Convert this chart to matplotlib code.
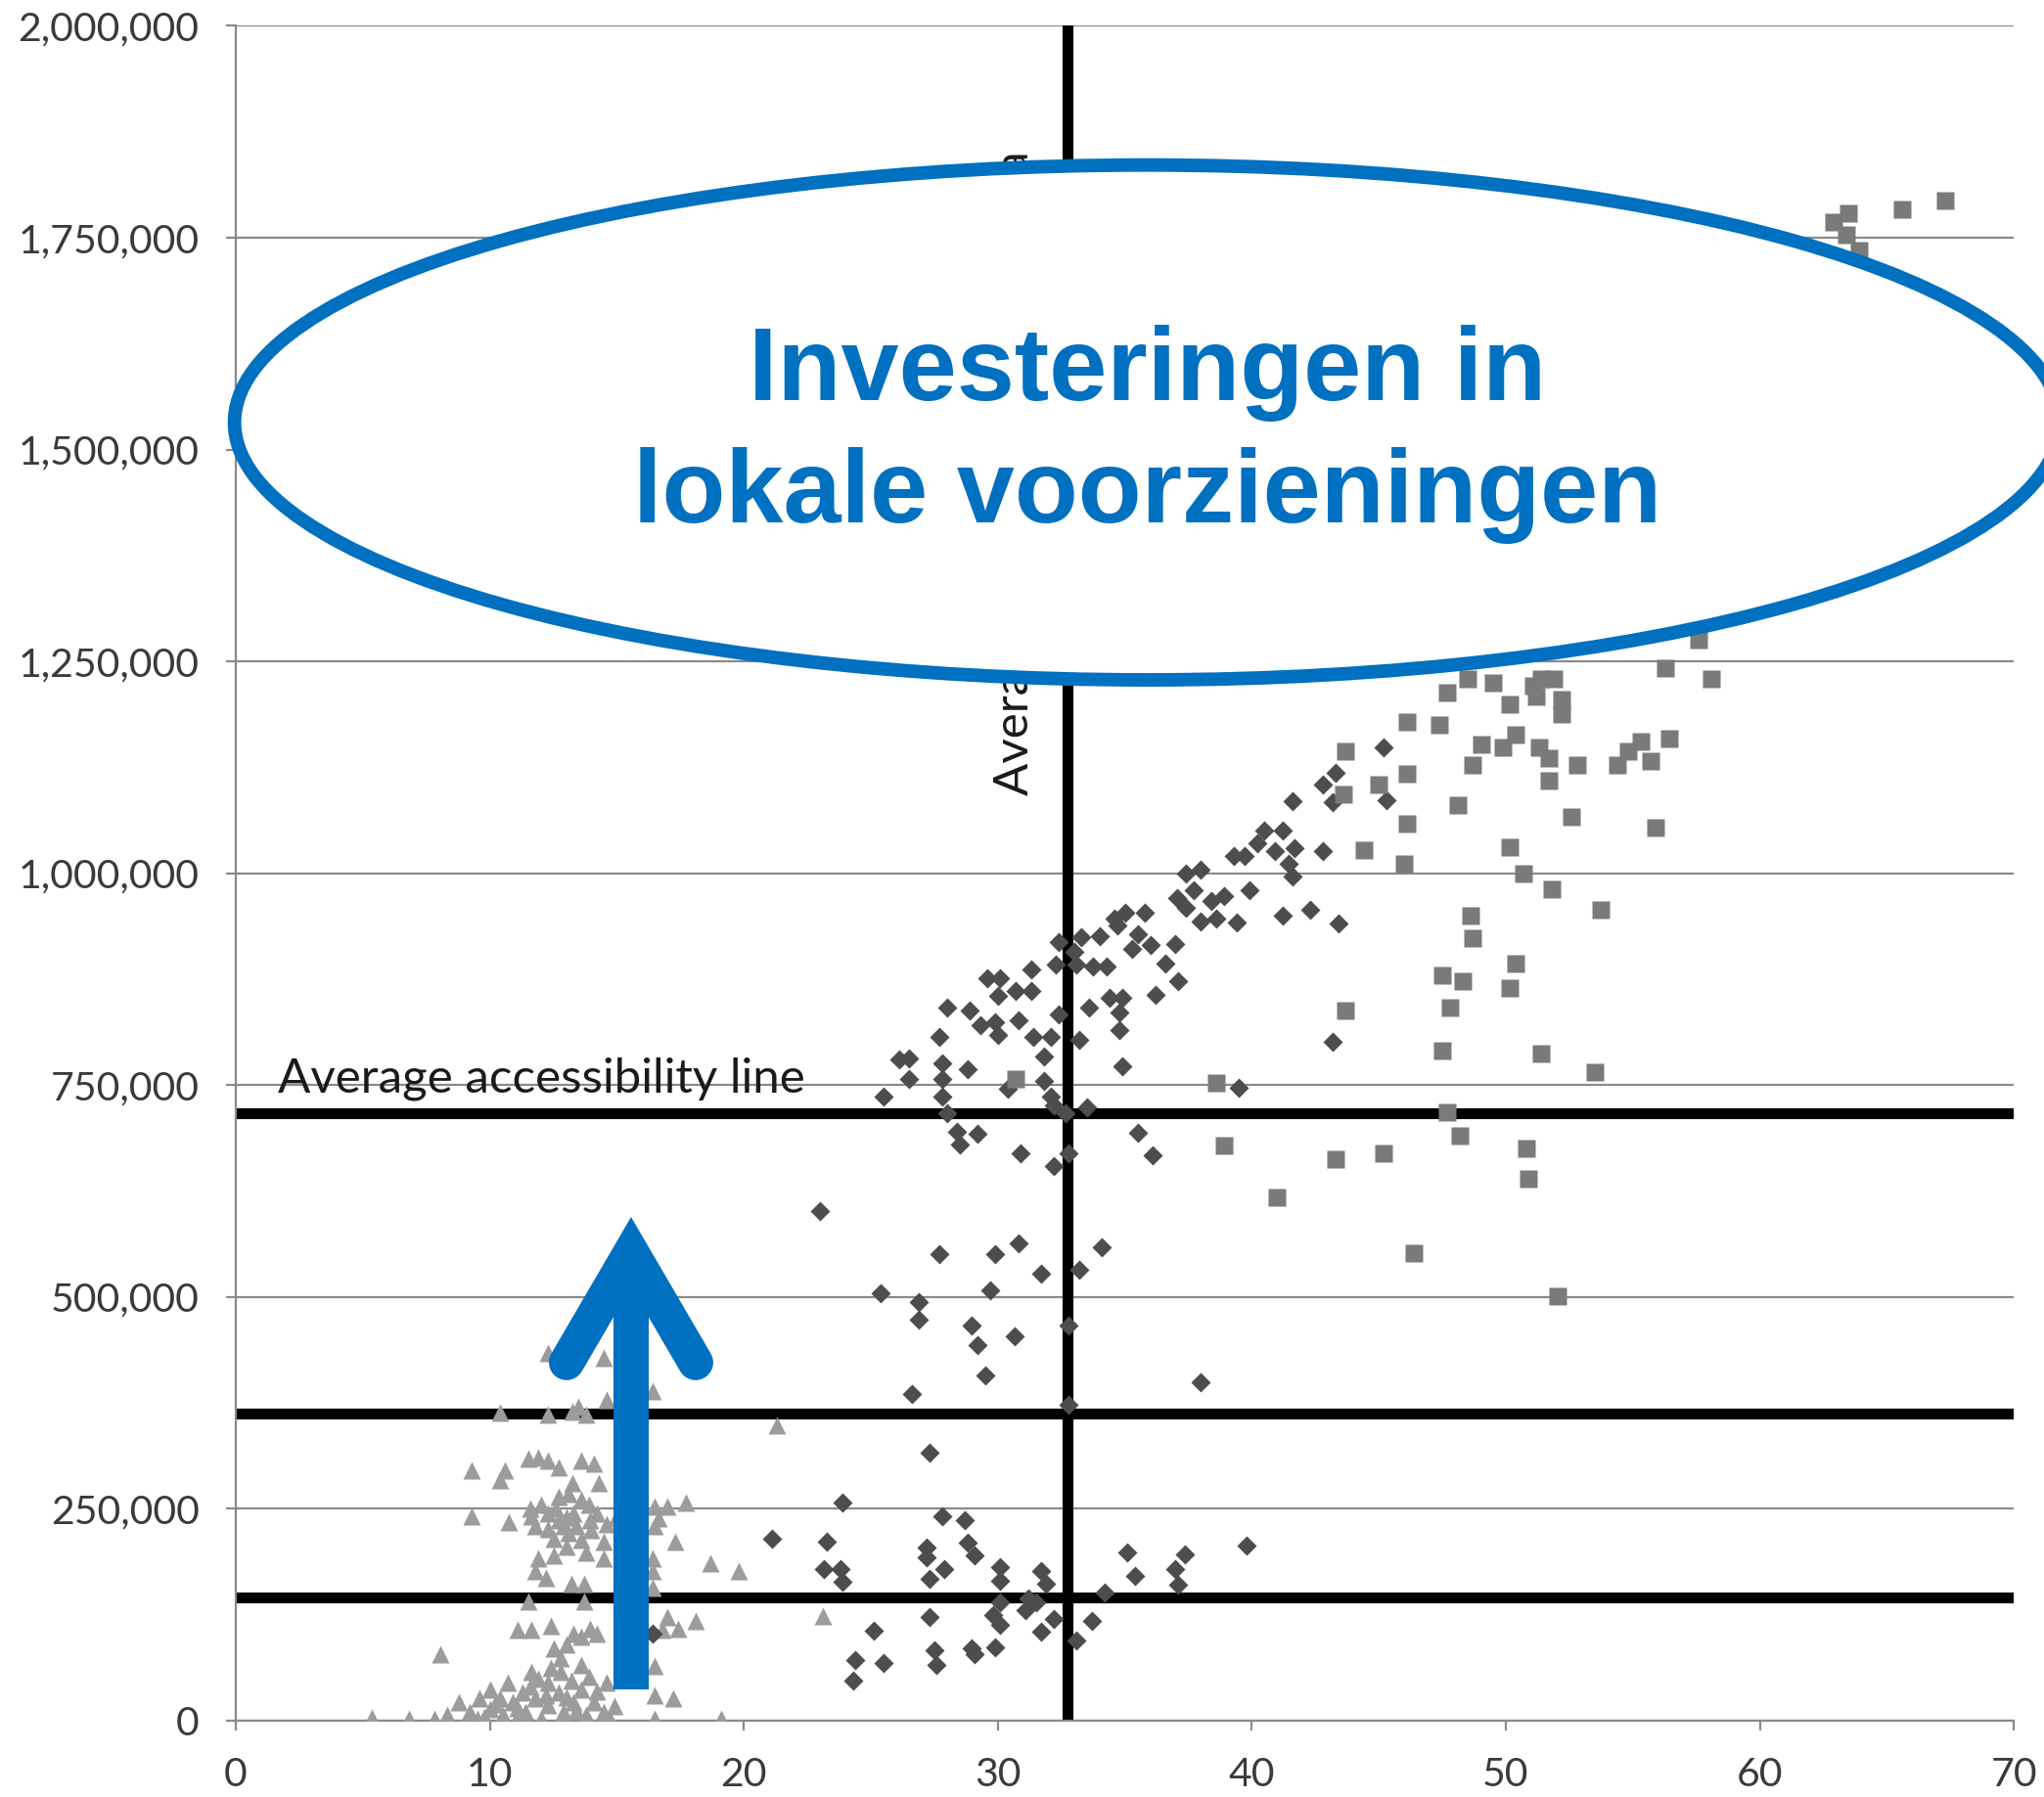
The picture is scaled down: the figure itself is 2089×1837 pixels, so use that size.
import numpy as np
import matplotlib.pyplot as plt
from matplotlib.patches import Ellipse
from matplotlib.ticker import FuncFormatter

# --- series (x = accessibility, y in thousands) ---

# light grey triangles
tri_x = [12.3, 12.8, 14.5, 16.4, 14.6, 10.4, 12.3, 13.25, 13.5, 13.8, 21.3,
         9.3, 10.6, 10.4, 11.5, 11.9, 12.3, 12.7, 13.6, 14.1, 13.25, 14.3, 12.7, 13.1, 13.6,
         9.3, 10.75, 11.65, 12.3, 12.7, 13.3, 13.95, 11.8, 12.3, 13.1, 13.6, 14.6, 16.5, 17.0,
         17.7, 16.65, 16.5,
         14.5, 13.8, 14.5, 17.3, 11.9, 12.5, 11.8, 12.2, 13.2, 13.7, 16.4, 16.4, 18.7, 19.8,
         11.5, 13.7, 16.4, 11.1, 11.65, 12.4, 13.3, 13.95, 14.2, 13.6, 17.0, 17.4, 18.1, 16.8, 23.1,
         8.05, 11.65, 12.8, 12.8, 13.6, 16.5, 12.3, 13.2, 14.6, 16.5, 17.2,
         5.35, 6.8, 7.8, 8.3, 8.8, 9.2, 9.6, 10.0, 10.0, 10.4, 10.5, 10.9, 11.3, 11.4, 11.8,
         12.0, 12.3, 12.7, 12.9, 13.3, 13.6, 13.8, 14.1, 14.5, 14.7, 14.9, 16.5, 19.1, 9.5, 11.0, 12.8,
         12.0, 12.6, 13.0, 13.9, 14.2, 12.9, 11.6, 13.4, 14.0, 12.5, 13.0, 15.0,
         10.2, 11.1, 11.6, 12.2, 13.0, 13.4, 14.2, 9.8, 10.7, 11.9, 12.4, 13.9, 12.5, 13.0]
tri_y = [434, 431, 428, 389, 378, 363, 361, 365, 370, 361, 349,
         295, 295, 284, 309, 311, 307, 299, 307, 303, 280, 280, 264, 268, 261,
         241, 234, 241, 245, 237, 245, 237, 230, 226, 222, 214, 232, 253, 253,
         257, 239, 230,
         211, 199, 191, 211, 191, 195, 176, 168, 162, 162, 191, 176, 186, 176,
         141, 141, 157, 107, 107, 112, 103, 108, 103, 99, 122, 108, 118, 107, 123,
         78, 58, 74, 58, 66, 64, 45, 47, 45, 30, 26,
         3, 2, 2, 7, 22, 10, 26, 37, 14, 26, 7, 22, 33, 10, 26,
         2, 18, 33, 10, 22, 37, 7, 22, 10, 2, 17, 2, 2, 2, 0, 0,
         255, 250, 240, 255, 245, 230, 250, 230, 225, 215, 205, 240,
         20, 15, 40, 30, 28, 12, 35, 5, 45, 50, 62, 52, 85, 90]

# dark grey diamonds
dia_x = [41.6, 42.8, 43.2, 40.5, 41.2, 40.2, 40.9, 41.7, 41.45, 41.6, 42.8, 39.3, 39.7,
         37.4, 38.0, 37.7, 37.05, 37.4, 38.4, 38.9, 39.9, 38.0, 38.6, 39.4, 41.2, 42.3, 43.4,
         34.6, 35.0, 34.7, 35.8, 35.5, 35.3, 36.0, 37.0, 36.6, 37.1, 36.2, 34.0, 33.3, 33.0,
         32.4, 32.3, 33.1, 33.75, 34.3, 31.3, 31.3, 30.7, 29.6, 30.1, 30.0, 28.0, 28.9, 29.3,
         29.9, 30.0, 30.8, 31.4, 32.1, 31.8, 32.4, 33.2, 33.6, 34.4, 34.9, 34.8, 34.8, 34.9,
         27.7, 26.1, 26.5, 26.5, 25.5, 27.8, 27.8, 27.8, 28.0, 28.8, 30.4, 31.8, 32.1, 32.2,
         32.65, 33.5, 28.4, 28.5, 29.2, 30.9, 32.2, 32.8, 35.5, 36.1, 39.5, 43.2,
         45.2, 43.3, 45.3,
         23.0, 27.7, 29.9, 30.8, 31.7, 33.2, 34.1, 25.4, 26.9, 26.9, 29.7, 28.96, 29.2, 30.65,
         29.5, 32.8, 32.8, 38.0, 26.6, 27.3, 23.9, 27.8, 28.7, 21.1, 23.25, 27.2, 27.2, 28.8,
         29.1, 23.15, 23.8, 23.9, 27.9, 27.3, 30.1, 30.1, 31.7, 31.9, 35.1, 35.4, 37.35, 37.0,
         37.1, 39.8, 34.2, 31.2, 31.5, 31.1, 30.1, 29.8, 30.1, 32.2, 31.7, 33.7, 33.1, 27.3,
         25.1, 24.4, 25.5, 24.3, 27.5, 27.6, 28.96, 29.1, 29.9, 16.4]
dia_y = [1085, 1105, 1084, 1050, 1050, 1035, 1026, 1030, 1011, 996, 1026, 1020, 1020,
         1000, 1004, 980, 971, 959, 967, 973, 980, 943, 946, 942, 950, 957, 941,
         946, 954, 938, 953, 928, 911, 915, 917, 894, 873, 856, 926, 925, 907,
         919, 892, 892, 890, 890, 886, 861, 861, 876, 876, 855, 842, 838, 821,
         824, 809, 826, 807, 807, 784, 833, 803, 842, 853, 853, 836, 815, 772,
         807, 780, 782, 757, 737, 776, 757, 736, 717, 769, 746, 755, 737, 726,
         717, 724, 695, 680, 692, 670, 655, 669, 694, 667, 747, 801,
         1148, 1119, 1086,
         601, 551, 551, 563, 528, 532, 559, 504, 494, 473, 508, 466, 443, 454,
         407, 466, 373, 399, 385, 316, 257, 241, 237, 215, 211, 204, 193, 210,
         195, 179, 179, 164, 179, 167, 181, 165, 176, 161, 199, 171, 196, 179,
         160, 207, 151, 144, 140, 130, 140, 125, 113, 120, 105, 118, 95, 122,
         106, 72, 68, 47, 83, 66, 85, 78, 87, 103]

# medium grey squares
sq_x = [67.3, 65.6, 63.5, 62.9, 63.4, 63.9,
        57.6, 56.3, 58.1, 48.5, 47.7, 49.5, 51.1, 51.4, 51.9, 51.2, 50.15, 52.2, 52.2, 46.1,
        47.4, 50.4, 49.05, 49.9, 51.3, 51.7, 48.7, 52.8, 51.7, 55.3, 56.45, 54.8, 54.4, 55.7,
        43.7, 43.6, 45.0, 46.1, 46.1, 48.1, 44.4, 46.0, 52.6, 55.9, 50.15, 50.7, 51.8, 53.75,
        48.6, 48.7, 50.4, 47.5, 48.3, 50.15, 47.8, 43.7, 47.5, 51.4, 53.5,
        38.6, 38.9, 41.0, 43.3, 45.2, 30.7,
        47.7, 48.2, 50.8, 50.9, 46.4, 52.05]
sq_y = [1794, 1783, 1779, 1768, 1754, 1735,
        1275, 1242, 1229, 1229, 1213, 1225, 1221, 1229, 1229, 1209, 1199, 1205, 1188, 1179,
        1175, 1163, 1152, 1148, 1148, 1136, 1128, 1128, 1109, 1155, 1159, 1144, 1128, 1132,
        1144, 1093, 1105, 1117, 1058, 1081, 1027, 1011, 1067, 1054, 1031, 1000, 981, 957,
        950, 923, 893, 880, 873, 865, 842, 838, 791, 787, 765,
        753, 679, 618, 663, 670, 757,
        718, 690, 675, 640, 552, 501]

# average lines
avg_access_levels = [717000, 362000, 145000]
avg_x = 32.75

y_ticks = np.arange(0, 2000001, 250000)
x_ticks = np.arange(0, 71, 10)

blue = '#0070C0'
grid_col = '#8a8a8a'

fig = plt.figure(figsize=(20.89, 18.37), dpi=100)
ax = fig.add_axes([0.1154, 0.0425, 0.8698, 0.9431])

ax.set_xlim(0, 70)
ax.set_ylim(0, 2000000)
ax.set_yticks(y_ticks)
ax.set_xticks(x_ticks)
ax.yaxis.set_major_formatter(FuncFormatter(lambda v, p: f"{int(v):,}"))

ax.grid(axis='y', color=grid_col, lw=1.6, zorder=0)
ax.set_axisbelow(True)
for s in ['top', 'right']:
    ax.spines[s].set_visible(False)
for s in ['left', 'bottom']:
    ax.spines[s].set_color(grid_col)
    ax.spines[s].set_linewidth(1.6)
ax.tick_params(axis='both', direction='out', length=7, width=1.6, color=grid_col,
               labelsize=29.5, labelcolor='#3a3a3a')
ax.tick_params(axis='y', pad=20)
ax.tick_params(axis='x', pad=20)
for lab in ax.get_xticklabels() + ax.get_yticklabels():
    lab.set_family('Lato')

# thick reference lines
for lvl in avg_access_levels:
    ax.axhline(lvl, color='black', lw=8, zorder=2)
ax.axvline(avg_x, color='black', lw=8, zorder=2)

# scatter series
ax.plot(tri_x, np.array(tri_y) * 1000, '^', ls='none', ms=13.5, color='#9c9c9c', mec='none', zorder=3)
ax.plot(dia_x, np.array(dia_y) * 1000, 'D', ls='none', ms=10.5, color='#4d4d4d', mec='none', zorder=4)
ax.plot(sq_x, np.array(sq_y) * 1000, 's', ls='none', ms=13, color='#7a7a7a', mec='none', zorder=4)

# labels of the reference lines
ax.text(1.66, 742000, 'Average accessibility line', family='Lato', fontsize=35.5,
        color='#1a1a1a', ha='left', va='baseline', zorder=5)
ax.text(30.64, 1092000, 'Average investment per capita', family='Lato', fontsize=35.5,
        color='#1a1a1a', rotation=90, ha='center', va='bottom', zorder=5)

# ellipse with the message
ell = Ellipse((35.88, 1532000), 71.87, 607600, facecolor='white', edgecolor=blue,
              lw=10, zorder=10, clip_on=False)
ax.add_patch(ell)
ax.text(35.88, 1518000, 'Investeringen in\nlokale voorzieningen', ha='center', va='center',
        family='Liberation Sans', fontweight='bold', fontsize=76.5, color=blue,
        linespacing=1.33, zorder=11)

# blue arrow
ax.plot([15.56, 15.56], [37000, 553000], color=blue, lw=26, solid_capstyle='butt', zorder=9)
ax.plot([13.02, 15.56, 18.1], [422600, 553000, 422600], color=blue, lw=26,
        solid_capstyle='round', solid_joinstyle='miter', zorder=9)

fig.savefig('out.png', dpi=100)
